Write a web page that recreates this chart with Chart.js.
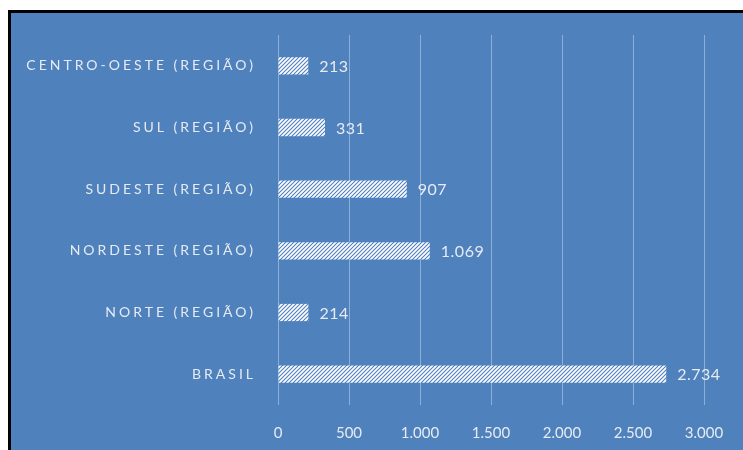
<!DOCTYPE html>
<html>
<head>
<meta charset="utf-8">
<script src="https://cdn.jsdelivr.net/npm/chart.js@4"></script>
<style>
  html, body { margin: 0; padding: 0; background: #ffffff; }
  #frame {
    position: absolute; left: 8px; top: 10px;
    width: 732px; height: 437px;
    border-left: 3px solid #000; border-top: 3px solid #000;
    background: #4f81bd;
  }
  #chart { display: block; }
</style>
</head>
<body>
<div id="frame"><canvas id="chart" width="732" height="437"></canvas></div>
<script>
// data
const categories = ['CENTRO-OESTE (REGIÃO)', 'SUL (REGIÃO)', 'SUDESTE (REGIÃO)', 'NORDESTE (REGIÃO)', 'NORTE (REGIÃO)', 'BRASIL'];
const values = [213, 331, 907, 1069, 214, 2734];
const xTicks = [0, 500, 1000, 1500, 2000, 2500, 3000];

const blue = '#4f81bd';
const textColor = '#e6ebf2';

function fmt(n) {
    return String(n).replace(/\B(?=(\d{3})+(?!\d))/g, '.');
}

// white hatch with blue diagonal lines
function hatch() {
    const c = document.createElement('canvas');
    c.width = 4; c.height = 4;
    const g = c.getContext('2d');
    g.fillStyle = '#ffffff';
    g.fillRect(0, 0, 4, 4);
    g.strokeStyle = blue;
    g.lineWidth = 1.1;
    g.beginPath();
    g.moveTo(0, 4); g.lineTo(4, 0);
    g.moveTo(-1, 1); g.lineTo(1, -1);
    g.moveTo(3, 5); g.lineTo(5, 3);
    g.stroke();
    return g.createPattern(c, 'repeat');
}

const valueLabels = {
    id: 'valueLabels',
    afterDatasetsDraw(chart) {
        const ctx = chart.ctx;
        const meta = chart.getDatasetMeta(0);
        ctx.save();
        ctx.font = '16px Lato, "Open Sans", sans-serif';
        ctx.letterSpacing = '0.5px';
        ctx.fillStyle = textColor;
        ctx.textAlign = 'left';
        ctx.textBaseline = 'middle';
        meta.data.forEach((bar, i) => {
            ctx.fillText(fmt(values[i]), bar.x + 11, bar.y + 1);
        });
        ctx.restore();
    }
};

// spaced-out category labels
const spacedLabels = {
    id: 'spacedLabels',
    afterLayout(chart) {
        const s = chart.scales.y;
        if (s._spaced) return;
        const orig = s.drawLabels;
        s.drawLabels = function (area) {
            this.ctx.save();
            this.ctx.letterSpacing = '3px';
            orig.call(this, area);
            this.ctx.restore();
        };
        s._spaced = true;
    }
};

new Chart(document.getElementById('chart'), {
    type: 'bar',
    data: {
        labels: categories,
        datasets: [{
            data: values,
            backgroundColor: hatch(),
            borderWidth: 0,
            barPercentage: 0.28,
            categoryPercentage: 1
        }]
    },
    options: {
        indexAxis: 'y',
        responsive: false,
        animation: false,
        layout: { padding: { top: 22, right: 39, left: 0, bottom: 0 } },
        plugins: { legend: { display: false }, tooltip: { enabled: false } },
        scales: {
            x: {
                min: 0, max: 3000,
                afterBuildTicks(scale) { scale.ticks = xTicks.map(v => ({ value: v })); },
                afterFit(scale) { scale.height = 45; },
                grid: { color: 'rgba(220,228,240,0.45)', lineWidth: 1, drawTicks: false },
                border: { display: false },
                ticks: {
                    padding: 19,
                    color: textColor,
                    font: { family: 'Lato, "Open Sans", sans-serif', size: 15 },
                    callback: v => fmt(v)
                }
            },
            y: {
                afterFit(scale) {
                    scale.width = 267;
                    scale.paddingTop = 0;
                    scale.paddingBottom = 0;
                },
                grid: { display: false, drawTicks: false },
                border: { display: false },
                ticks: {
                    padding: 22,
                    color: textColor,
                    font: { family: 'Lato, "Open Sans", sans-serif', size: 14 }
                }
            }
        }
    },
    plugins: [valueLabels, spacedLabels]
});
</script>
</body>
</html>
